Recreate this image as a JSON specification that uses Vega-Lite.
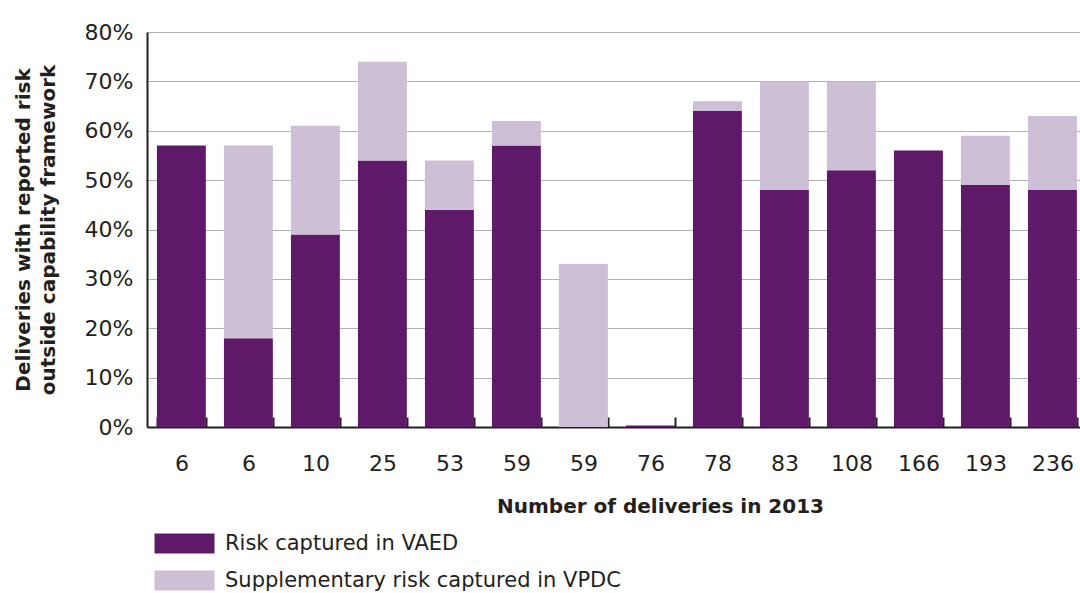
{
  "$schema": "https://vega.github.io/schema/vega-lite/v6.json",
  "autosize": {"type": "none"},
  "width": 933,
  "height": 395,
  "padding": {"left": 147, "top": 32, "right": 0, "bottom": 166},
  "background": "white",
  "config": {
    "font": "DejaVu Sans",
    "view": {"stroke": null},
    "axis": {"labelColor": "#231f20", "titleColor": "#231f20", "labelFont": "DejaVu Sans", "titleFont": "DejaVu Sans"}
  },
  "data": {
    "values": [
      {"idx": 1, "label": "6", "series": "Risk captured in VAED", "value": 57},
      {"idx": 1, "label": "6", "series": "Supplementary risk captured in VPDC", "value": 0},
      {"idx": 2, "label": "6", "series": "Risk captured in VAED", "value": 18},
      {"idx": 2, "label": "6", "series": "Supplementary risk captured in VPDC", "value": 39},
      {"idx": 3, "label": "10", "series": "Risk captured in VAED", "value": 39},
      {"idx": 3, "label": "10", "series": "Supplementary risk captured in VPDC", "value": 22},
      {"idx": 4, "label": "25", "series": "Risk captured in VAED", "value": 54},
      {"idx": 4, "label": "25", "series": "Supplementary risk captured in VPDC", "value": 20},
      {"idx": 5, "label": "53", "series": "Risk captured in VAED", "value": 44},
      {"idx": 5, "label": "53", "series": "Supplementary risk captured in VPDC", "value": 10},
      {"idx": 6, "label": "59", "series": "Risk captured in VAED", "value": 57},
      {"idx": 6, "label": "59", "series": "Supplementary risk captured in VPDC", "value": 5},
      {"idx": 7, "label": "59", "series": "Risk captured in VAED", "value": 0},
      {"idx": 7, "label": "59", "series": "Supplementary risk captured in VPDC", "value": 33},
      {"idx": 8, "label": "76", "series": "Risk captured in VAED", "value": 0.3},
      {"idx": 8, "label": "76", "series": "Supplementary risk captured in VPDC", "value": 0},
      {"idx": 9, "label": "78", "series": "Risk captured in VAED", "value": 64},
      {"idx": 9, "label": "78", "series": "Supplementary risk captured in VPDC", "value": 2},
      {"idx": 10, "label": "83", "series": "Risk captured in VAED", "value": 48},
      {"idx": 10, "label": "83", "series": "Supplementary risk captured in VPDC", "value": 22},
      {"idx": 11, "label": "108", "series": "Risk captured in VAED", "value": 52},
      {"idx": 11, "label": "108", "series": "Supplementary risk captured in VPDC", "value": 18},
      {"idx": 12, "label": "166", "series": "Risk captured in VAED", "value": 56},
      {"idx": 12, "label": "166", "series": "Supplementary risk captured in VPDC", "value": 0},
      {"idx": 13, "label": "193", "series": "Risk captured in VAED", "value": 49},
      {"idx": 13, "label": "193", "series": "Supplementary risk captured in VPDC", "value": 10},
      {"idx": 14, "label": "236", "series": "Risk captured in VAED", "value": 48},
      {"idx": 14, "label": "236", "series": "Supplementary risk captured in VPDC", "value": 15}
    ]
  },
  "mark": {"type": "bar"},
  "encoding": {
    "x": {
      "field": "idx",
      "type": "ordinal",
      "sort": "ascending",
      "scale": {"paddingInner": 0.27, "paddingOuter": 0.0975, "align": 0.76},
      "axis": {
        "title": "Number of deliveries in 2013",
        "titleFontSize": 20,
        "titleFontWeight": "bold",
        "titlePadding": 22,
        "titleX": 513,
        "labelAngle": 0,
        "labelFontSize": 22,
        "labelPadding": 36,
        "labelExpr": "['6','6','10','25','53','59','59','76','78','83','108','166','193','236'][datum.value-1]",
        "tickBand": "extent",
        "tickSize": -10,
        "tickColor": "#231f20",
        "tickWidth": 2,
        "domainColor": "#231f20",
        "domainWidth": 2
      }
    },
    "y": {
      "field": "value",
      "type": "quantitative",
      "stack": "zero",
      "scale": {"domain": [0, 80], "nice": false},
      "axis": {
        "title": ["Deliveries with reported risk", "outside capability framework"],
        "titleFontSize": 20,
        "titleFontWeight": "bold",
        "titleLineHeight": 25,
        "titlePadding": 26,
        "values": [0, 10, 20, 30, 40, 50, 60, 70, 80],
        "labelExpr": "datum.value + '%'",
        "labelFontSize": 22,
        "labelPadding": 14,
        "ticks": false,
        "grid": true,
        "gridColor": "#b0b0b0",
        "gridWidth": 1,
        "domainColor": "#231f20",
        "domainWidth": 2
      }
    },
    "color": {
      "field": "series",
      "type": "nominal",
      "scale": {
        "domain": ["Risk captured in VAED", "Supplementary risk captured in VPDC"],
        "range": ["#5e1a68", "#cdbfd6"]
      },
      "legend": {
        "title": null,
        "orient": "none",
        "legendX": 27,
        "legendY": 501,
        "direction": "vertical",
        "symbolType": "M-3,-1H3V1H-3Z",
        "symbolSize": 400,
        "symbolStrokeWidth": 0,
        "labelFontSize": 21,
        "labelColor": "#231f20",
        "labelFont": "DejaVu Sans",
        "labelOffset": 30,
        "labelLimit": 0,
        "rowPadding": 15
      }
    },
    "order": {"field": "series", "sort": "ascending"}
  }
}
